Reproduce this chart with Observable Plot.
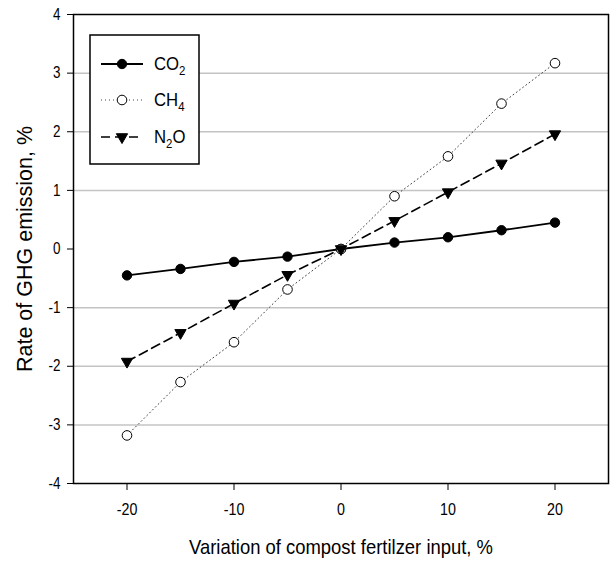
<!DOCTYPE html>
<html><head><meta charset="utf-8">
<script src="https://cdn.jsdelivr.net/npm/d3@7"></script>
<script src="https://cdn.jsdelivr.net/npm/@observablehq/plot@0.6"></script>
<style>
body{margin:0;background:#fff}
#c{position:relative;width:611px;height:565px}
#c svg{position:absolute;left:0;top:0;overflow:visible}
</style>
</head><body><div id="c"></div>
<script>
const inputVariation = [-20,-15,-10,-5,0,5,10,15,20];
const co2 = [-0.45,-0.34,-0.22,-0.13,0,0.11,0.2,0.32,0.45];
const ch4 = [-3.18,-2.27,-1.59,-0.69,0,0.9,1.58,2.48,3.17];
const n2o = [-1.92,-1.43,-0.93,-0.44,0,0.48,0.97,1.46,1.96];
const seriesNames = ["CO2","CH4","N2O"];
const seriesMain = ["CO","CH","N"];
const seriesSub = ["2","4","2"];
const seriesTail = ["","","O"];
const yTicks = [-4,-3,-2,-1,0,1,2,3,4];
const xTicks = [-20,-10,0,10,20];
const gridValues = [-3,-2,-1,1,2,3];
const xLabel = "Variation of compost fertilzer input, %";
const yLabel = "Rate of GHG emission, %";

const FONT = "'Liberation Sans',Arial,sans-serif";
const SQUEEZE = 0.84;

const rows = [];
[co2, ch4, n2o].forEach((vals, s) => vals.forEach((v, i) => rows.push({series: seriesNames[s], x: inputVariation[i], y: v})));
const bySeries = name => rows.filter(d => d.series === name);

const styles = {
  CO2: {line: {stroke: "#000", strokeWidth: 1.8}, dot: {fill: "#000", stroke: "#000", strokeWidth: 1, r: 4.7, symbol: "circle"}},
  CH4: {line: {stroke: "#444", strokeWidth: 1, strokeDasharray: "1,3"}, dot: {fill: "#fff", stroke: "#000", strokeWidth: 1, r: 4.8, symbol: "circle"}},
  N2O: {line: {stroke: "#000", strokeWidth: 1.6, strokeDasharray: "9,5"}, dot: {fill: "#000", stroke: "#000", strokeWidth: 1, r: 4.2, symbol: "triangle", rotate: 180}}
};

const chart = Plot.plot({
  width: 611, height: 565,
  marginLeft: 73, marginRight: 3, marginTop: 14, marginBottom: 82,
  style: {fontFamily: FONT, background: "transparent", color: "#000"},
  x: {domain: [-25, 25]},
  y: {domain: [-4, 4]},
  marks: [
    Plot.ruleY(gridValues, {stroke: "#c4c4c4", strokeWidth: 1.5}),
    ...seriesNames.map(n => Plot.line(bySeries(n), {x: "x", y: "y", ...styles[n].line})),
    ...seriesNames.map(n => Plot.dot(bySeries(n), {x: "x", y: "y", ...styles[n].dot})),
    Plot.frame({stroke: "#000", strokeWidth: 1.5}),
    Plot.axisY({ticks: yTicks, tickSize: 6, tickPadding: 7, label: null, fontSize: 16, tickFormat: d => String(d)}),
    Plot.axisX({ticks: xTicks, tickSize: 7, tickPadding: 12, label: null, fontSize: 17, tickFormat: d => String(d)}),
    Plot.text([xLabel], {frameAnchor: "bottom", dy: 70, fontSize: 21, text: d => d, lineAnchor: "bottom"}),
    Plot.text([yLabel], {frameAnchor: "left", dx: -48, rotate: -90, fontSize: 21.5, textAnchor: "middle", text: d => d})
  ]
});
document.getElementById("c").appendChild(chart);

// horizontal squeeze of horizontal text (reference is rendered in a narrow face)
function squeeze(selector, k) {
  d3.select(chart).selectAll(selector).each(function () {
    const L = this.getComputedTextLength();
    this.setAttribute("textLength", L * k);
    this.setAttribute("lengthAdjust", "spacingAndGlyphs");
  });
}
squeeze('g[aria-label="x-axis tick label"] text', SQUEEZE);
squeeze('g[aria-label="y-axis tick label"] text', SQUEEZE);
d3.select(chart).selectAll("text").filter(function () { return this.textContent === xLabel; })
  .attr("textLength", 304).attr("lengthAdjust", "spacingAndGlyphs");

// Legend overlay
const svg = d3.select("#c").append("svg").attr("width", 611).attr("height", 565).style("font-family", FONT);
svg.append("rect").attr("x", 90).attr("y", 35).attr("width", 109).attr("height", 129)
  .attr("fill", "#fff").attr("stroke", "#000").attr("stroke-width", 1.5);
const itemY = [64, 100, 137];
seriesNames.forEach((n, i) => {
  const y = itemY[i], st = styles[n];
  svg.append("line").attr("x1", 101).attr("x2", 143).attr("y1", y).attr("y2", y)
    .attr("stroke", st.line.stroke).attr("stroke-width", st.line.strokeWidth)
    .attr("stroke-dasharray", st.line.strokeDasharray || null);
  const sym = st.dot.symbol === "triangle" ? d3.symbolTriangle : d3.symbolCircle;
  const size = Math.PI * st.dot.r * st.dot.r;
  svg.append("path").attr("d", d3.symbol(sym, size)())
    .attr("transform", `translate(122,${y}) rotate(${st.dot.rotate || 0})`)
    .attr("fill", st.dot.fill).attr("stroke", st.dot.stroke).attr("stroke-width", st.dot.strokeWidth || 1);
  const g = svg.append("g").attr("transform", `translate(154,${y + 6}) scale(0.88,1)`);
  const t = g.append("text").attr("font-size", 19);
  t.append("tspan").text(seriesMain[i]);
  t.append("tspan").attr("dy", 5).attr("font-size", 13).text(seriesSub[i]);
  if (seriesTail[i]) t.append("tspan").attr("dy", -5).text(seriesTail[i]);
});
</script>
</body></html>
